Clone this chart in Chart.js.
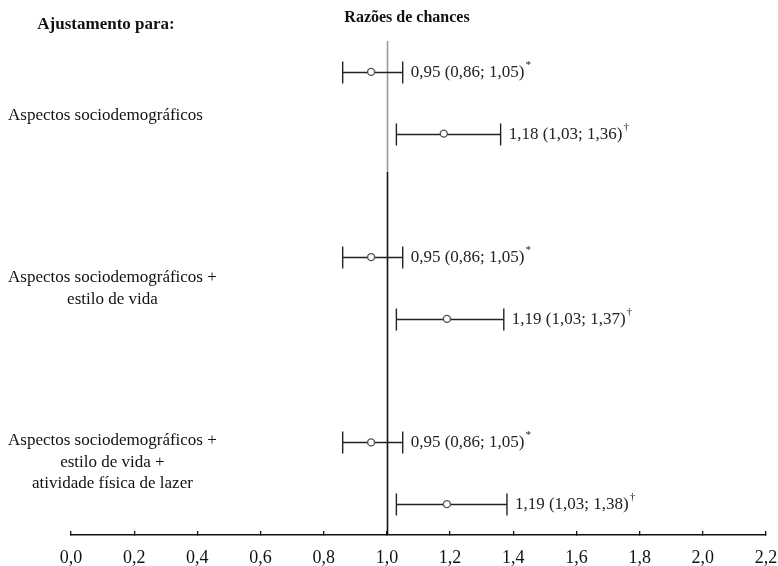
<!DOCTYPE html>
<html>
<head>
<meta charset="utf-8">
<script src="https://cdn.jsdelivr.net/npm/chart.js@4.4.1/dist/chart.umd.min.js"></script>
<style>
  html, body { margin: 0; padding: 0; background: #fff; }
  #wrap { width: 778px; height: 566px; }
</style>
</head>
<body>
<div id="wrap"><canvas id="forest" width="778" height="566"></canvas></div>
<script>
// --- dados do gráfico ---
const rowPos = [0, 1, 3, 4, 6, 7];
const oddsRatios = [0.95, 1.18, 0.95, 1.19, 0.95, 1.19];
const lowerCI = [0.86, 1.03, 0.86, 1.03, 0.86, 1.03];
const upperCI = [1.05, 1.36, 1.05, 1.37, 1.05, 1.38];
const marks = ['*', '\u2020', '*', '\u2020', '*', '\u2020'];
const groupLabels = [
    ['Aspectos sociodemográficos'],
    ['Aspectos sociodemográficos +', 'estilo de vida'],
    ['Aspectos sociodemográficos +', 'estilo de vida +', 'atividade física de lazer']
];
const groupCenters = [0.71, 3.51, 6.32];
const xTicks = [0, 0.2, 0.4, 0.6, 0.8, 1.0, 1.2, 1.4, 1.6, 1.8, 2.0, 2.2];
const leftTitle = 'Ajustamento para:';
const topTitle = 'Razões de chances';

const SERIF = '"Liberation Serif", "DejaVu Serif", serif';
const comma = (v, d) => v.toFixed(d).replace('.', ',');

// --- plugin: linha de referência, barras de erro e textos ---
const forestPlugin = {
    id: 'forest',
    beforeDatasetsDraw(chart) {
        const {ctx, chartArea, scales: {x, y}} = chart;
        const refX = Math.round(x.getPixelForValue(1.0)) + 0.5;
        const split = y.getPixelForValue(1.62);
        ctx.save();
        ctx.lineWidth = 1.6;
        ctx.strokeStyle = '#9a9a9a';
        ctx.beginPath();
        ctx.moveTo(refX, chartArea.top);
        ctx.lineTo(refX, split);
        ctx.stroke();
        ctx.strokeStyle = '#111';
        ctx.beginPath();
        ctx.moveTo(refX, split);
        ctx.lineTo(refX, chartArea.bottom);
        ctx.stroke();

        // intervalos de confiança
        ctx.strokeStyle = '#222';
        ctx.lineWidth = 1.4;
        const cap = 11;
        rowPos.forEach((r, i) => {
            const py = Math.round(y.getPixelForValue(r)) + 0.5;
            const x0 = x.getPixelForValue(lowerCI[i]);
            const x1 = x.getPixelForValue(upperCI[i]);
            ctx.beginPath();
            ctx.moveTo(x0, py);
            ctx.lineTo(x1, py);
            ctx.moveTo(x0, py - cap);
            ctx.lineTo(x0, py + cap);
            ctx.moveTo(x1, py - cap);
            ctx.lineTo(x1, py + cap);
            ctx.stroke();

            // rótulo do valor
            const txt = comma(oddsRatios[i], 2) + ' (' + comma(lowerCI[i], 2) + '; ' + comma(upperCI[i], 2) + ')';
            ctx.fillStyle = '#222';
            ctx.font = '17px ' + SERIF;
            ctx.textAlign = 'left';
            ctx.textBaseline = 'middle';
            const tx = x1 + 8;
            ctx.fillText(txt, tx, py);
            const w = ctx.measureText(txt).width;
            ctx.font = '11px ' + SERIF;
            ctx.fillText(marks[i], tx + w + 1, py - 7);
        });
        ctx.restore();
    },
    afterDraw(chart) {
        const {ctx, scales: {y}} = chart;
        ctx.save();
        ctx.fillStyle = '#111';
        ctx.textBaseline = 'middle';
        ctx.font = 'bold 17px ' + SERIF;
        ctx.textAlign = 'center';
        ctx.fillText(leftTitle, 106, 25);
        ctx.font = 'bold 16px ' + SERIF;
        ctx.fillText(topTitle, 407, 18);

        ctx.font = '17px ' + SERIF;
        const lh = 21.5;
        groupLabels.forEach((lines, g) => {
            const widest = ctx.measureText(lines[0]).width;
            const cx = 8 + widest / 2;
            const cy = y.getPixelForValue(groupCenters[g]);
            lines.forEach((line, k) => {
                ctx.fillText(line, cx, cy + (k - (lines.length - 1) / 2) * lh);
            });
        });
        ctx.restore();
    }
};

new Chart(document.getElementById('forest'), {
    type: 'scatter',
    data: {
        datasets: [{
            data: rowPos.map((r, i) => ({x: oddsRatios[i], y: r})),
            pointStyle: 'circle',
            pointRadius: 3.5,
            pointBackgroundColor: '#fff',
            pointBorderColor: '#555',
            pointBorderWidth: 1.4
        }]
    },
    options: {
        responsive: false,
        animation: false,
        events: [],
        layout: { padding: { top: 41, left: 71, right: 12, bottom: 0 } },
        plugins: { legend: { display: false }, tooltip: { enabled: false } },
        scales: {
            x: {
                type: 'linear',
                min: 0,
                max: 2.2,
                afterBuildTicks: axis => { axis.ticks = xTicks.map(v => ({value: v})); },
                afterFit: axis => {
                    axis.height = 31;
                    axis.paddingLeft = 0;
                    axis.paddingRight = 0;
                },
                grid: {
                    drawOnChartArea: false,
                    drawTicks: true,
                    tickLength: -4,
                    color: '#111',
                    lineWidth: 1.3
                },
                border: { display: true, color: '#111', width: 1.6 },
                ticks: {
                    padding: 16,
                    color: '#111',
                    font: { family: SERIF, size: 18 },
                    callback: v => comma(v, 1)
                }
            },
            y: {
                type: 'linear',
                min: -0.5,
                max: 7.5,
                reverse: true,
                display: false
            }
        }
    },
    plugins: [forestPlugin]
});
</script>
</body>
</html>
